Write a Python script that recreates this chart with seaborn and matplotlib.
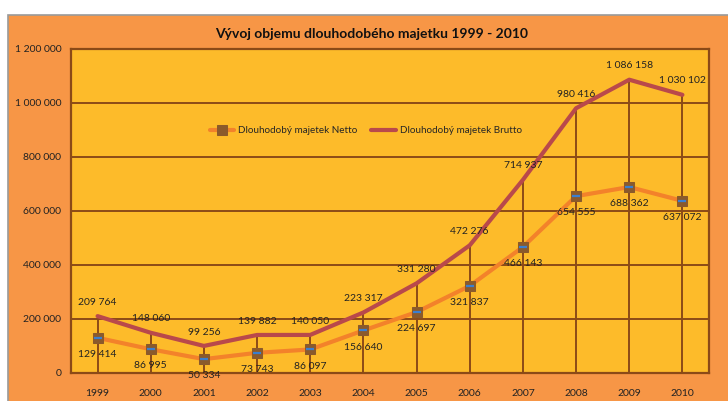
import numpy as np
import pandas as pd
import matplotlib
matplotlib.use("Agg")
import matplotlib.pyplot as plt
import seaborn as sns
from matplotlib.patches import Rectangle
from matplotlib.ticker import FuncFormatter, MultipleLocator

years = ["1999", "2000", "2001", "2002", "2003", "2004",
         "2005", "2006", "2007", "2008", "2009", "2010"]
netto = [129414, 86995, 50334, 73743, 86097, 156640,
         224697, 321837, 466143, 654555, 688362, 637072]
brutto = [209764, 148060, 99256, 139882, 140050, 223317,
          331280, 472276, 714937, 980416, 1086158, 1030102]

label_netto = "Dlouhodobý majetek Netto"
label_brutto = "Dlouhodobý majetek Brutto"
title = "Vývoj objemu dlouhodobého majetku 1999 - 2010"

sns.set_style("white")
plt.rcParams["font.family"] = ["Lato", "DejaVu Sans"]

brown = "#8B4A17"
fig_bg = "#F79646"
plot_bg = "#FDBB2A"
c_netto = "#F3822A"
c_brutto = "#B9494B"

df = pd.DataFrame({"year": years, "netto": netto, "brutto": brutto})

fig = plt.figure(figsize=(7.28, 4.01), dpi=100)
fig.patch.set_facecolor("white")
fig.patches.append(Rectangle((8 / 728, -0.01), 1.0, 1 - 15 / 401 + 0.01,
                             transform=fig.transFigure, facecolor=fig_bg,
                             edgecolor="#9A9A9A", linewidth=1.2, zorder=-10))

ax = fig.add_axes([71 / 728, 1 - 372.7 / 401, 638 / 728, 323.7 / 401])
ax.set_facecolor(plot_bg)

# drop lines from the higher series
x = np.arange(len(years))
ax.vlines(x, 0, df["brutto"], color=brown, linewidth=1.4, zorder=2)

sns.lineplot(data=df, x="year", y="netto", ax=ax, color=c_netto, linewidth=3,
             marker="s", markersize=7, markerfacecolor="#8B5A2B",
             markeredgecolor="#8B5A2B", label=label_netto, zorder=4, sort=False)
ax.plot(x, df["netto"], linestyle="none", marker="_", markersize=6,
        markeredgewidth=1.6, color="#3A7FD0", zorder=5)
sns.lineplot(data=df, x="year", y="brutto", ax=ax, color=c_brutto, linewidth=3,
             label=label_brutto, zorder=3, sort=False)

fmt = lambda v: f"{int(v):,}".replace(",", " ")
for i in range(len(years)):
    ax.annotate(fmt(brutto[i]), (x[i], brutto[i]), xytext=(0, 10),
                textcoords="offset points", ha="center", va="center",
                fontsize=7.5, color="#222222", zorder=6)
    ax.annotate(fmt(netto[i]), (x[i], netto[i]), xytext=(0, -12),
                textcoords="offset points", ha="center", va="center",
                fontsize=7.5, color="#222222", zorder=6)

ax.set_xlim(-0.5, len(years) - 0.5)
ax.set_ylim(0, 1200000)
ax.yaxis.set_major_locator(MultipleLocator(200000))
ax.yaxis.set_major_formatter(FuncFormatter(lambda v, p: fmt(v)))
ax.grid(axis="y", color=brown, linewidth=1.4)
ax.set_axisbelow(True)
for s in ax.spines.values():
    s.set_color(brown)
    s.set_linewidth(1.6)
ax.tick_params(axis="y", length=4, width=1.4, color=brown, labelsize=7.5,
               pad=3, labelcolor="#222222")
ax.tick_params(axis="x", length=0, labelsize=7.5, pad=12, labelcolor="#222222")
ax.set_xlabel("")
ax.set_ylabel("")

fig.text(372 / 728, 1 - 34 / 401, title, ha="center", va="center",
         fontsize=10, fontweight="bold", color="#111111")

ax.legend(loc="center", bbox_to_anchor=(0.462, 0.748), ncol=2, frameon=False,
          fontsize=7.1, handlelength=2.5, columnspacing=1.4, handletextpad=0.4)

fig.savefig("out.png", dpi=100, facecolor=fig.get_facecolor())
